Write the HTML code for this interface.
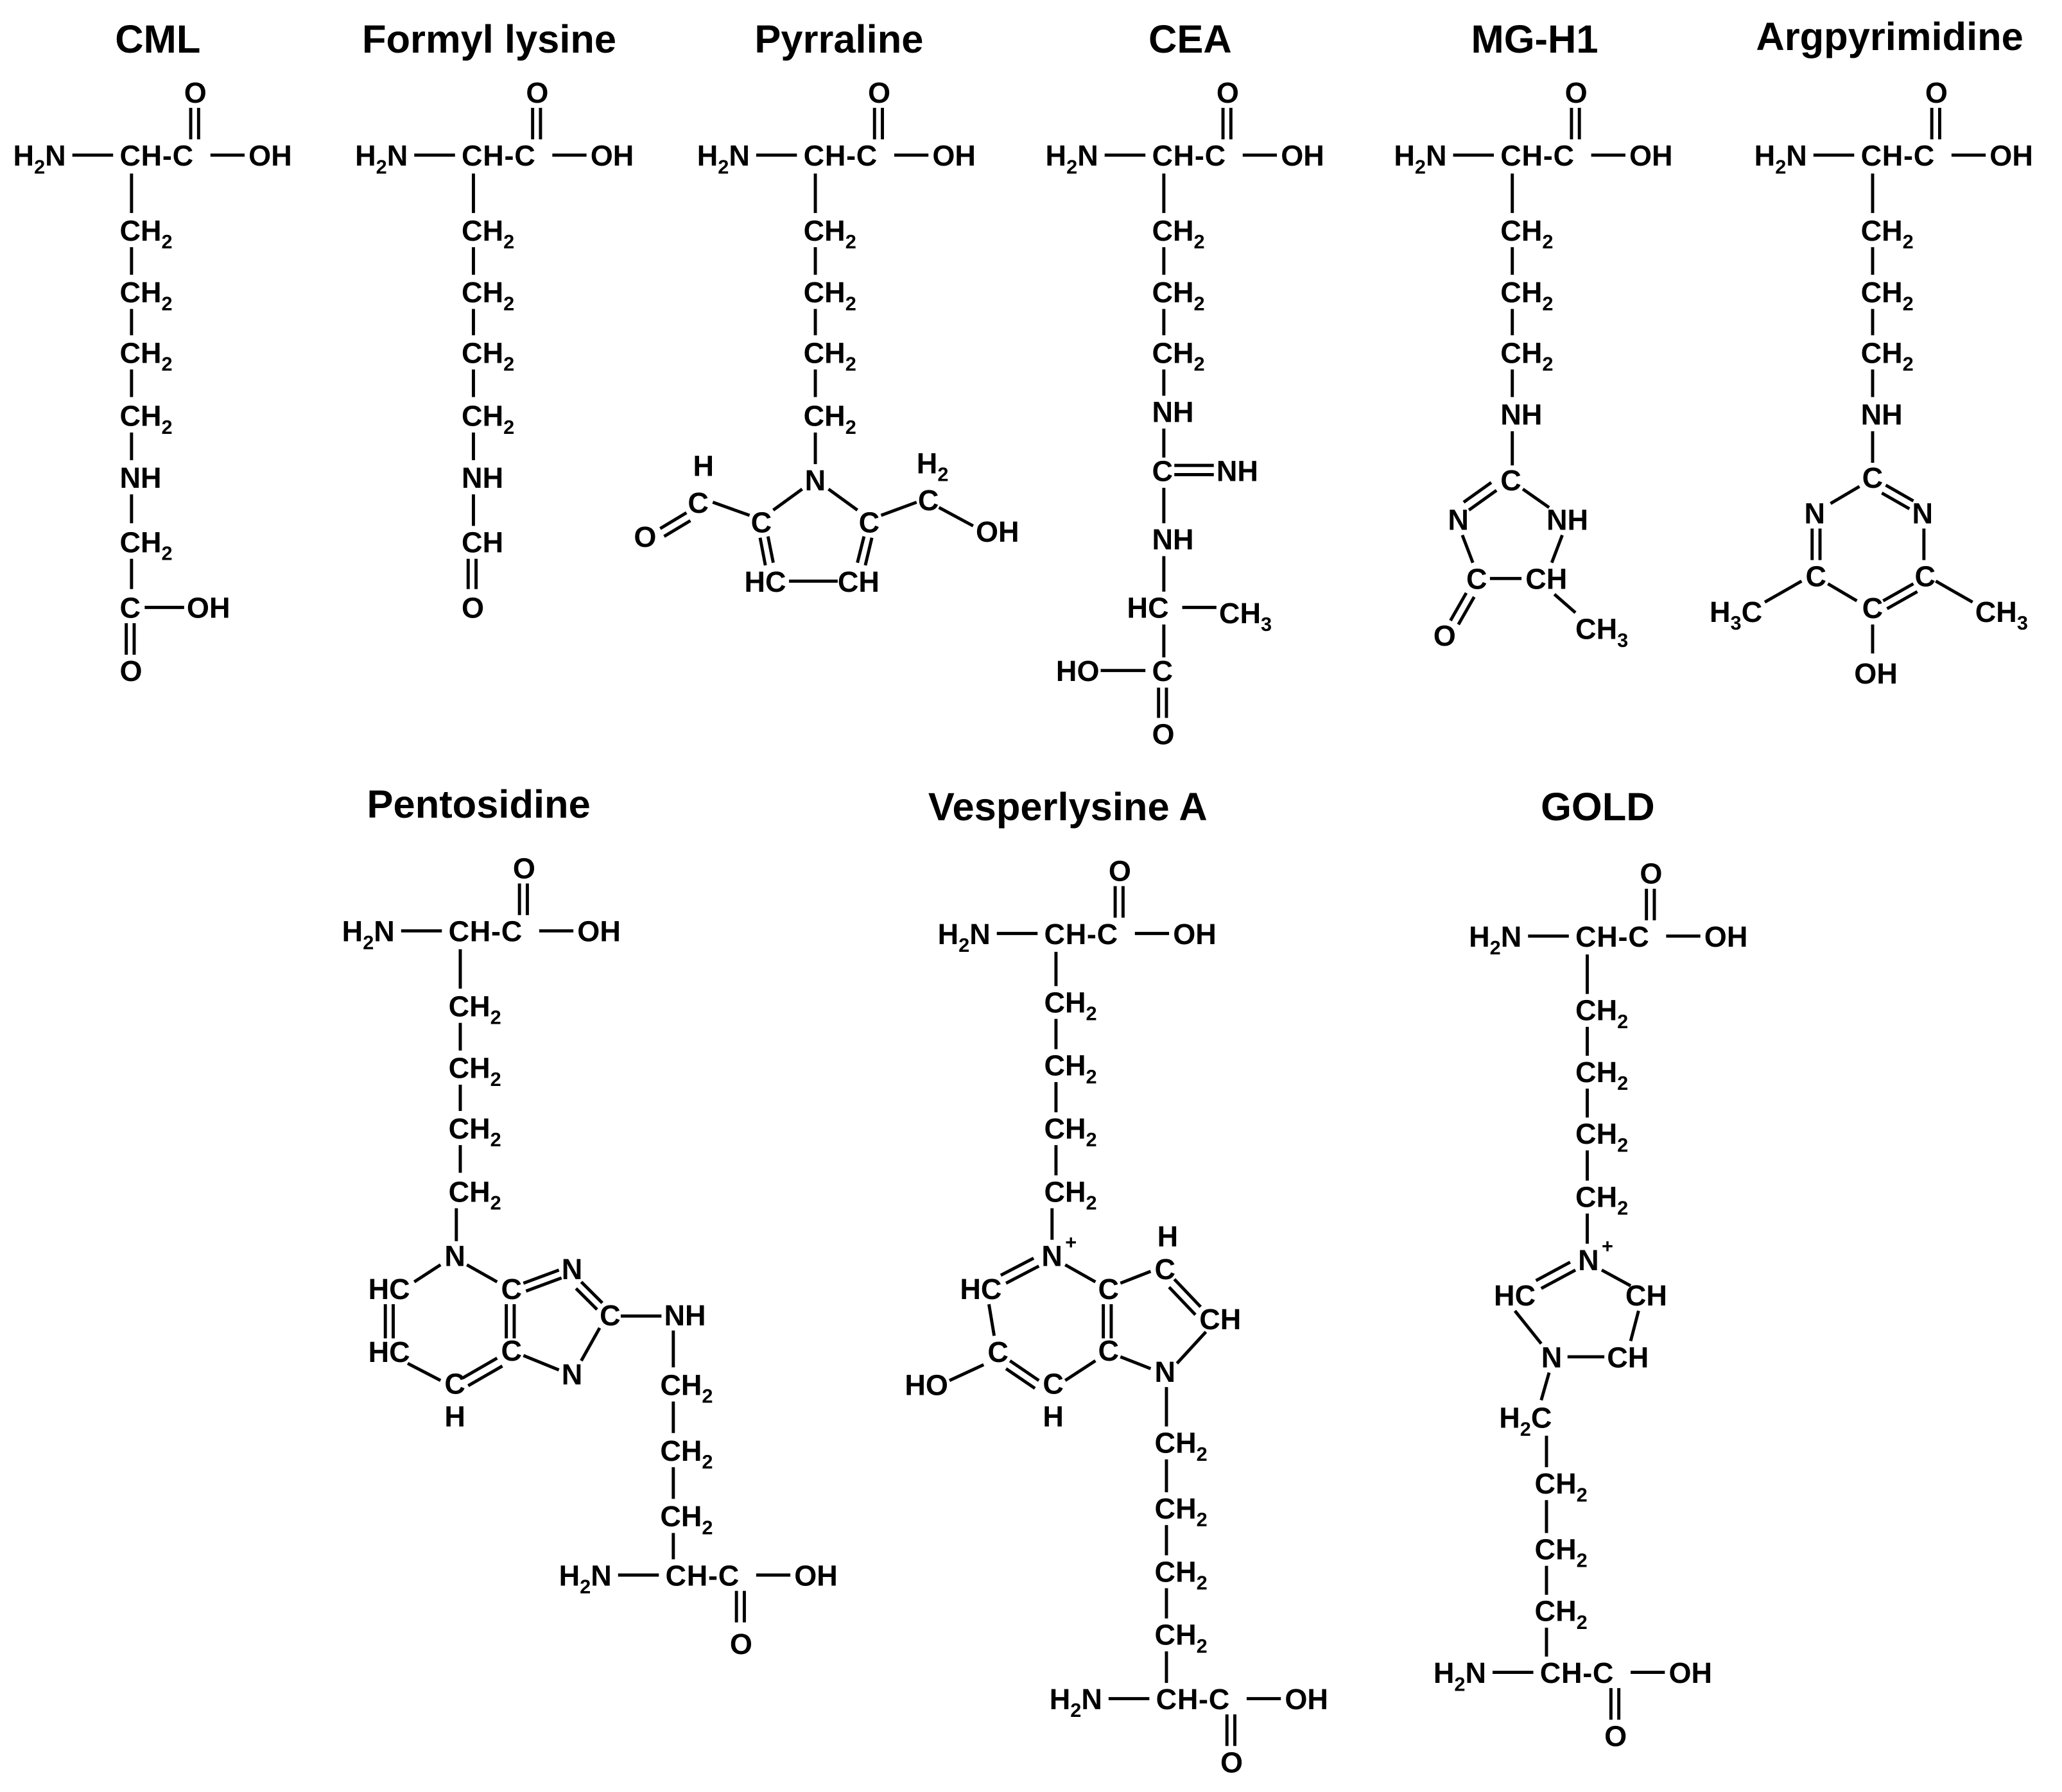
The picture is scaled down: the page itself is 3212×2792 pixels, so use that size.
<!DOCTYPE html>
<html><head><meta charset="utf-8"><style>
html,body{margin:0;padding:0;background:#fff}
svg{display:block}
text{font-family:"Liberation Sans",sans-serif;font-weight:bold;font-size:22px;fill:#000}
.t{font-size:30px;text-anchor:middle}
.s{font-size:15px}
line{stroke:#000;stroke-width:2.4}
</style></head><body>
<svg width="3212" height="2792" viewBox="0 0 1568 1363" xmlns="http://www.w3.org/2000/svg">
<!-- Titles -->
<text class="t" x="120" y="40">CML</text>
<text class="t" x="372" y="40">Formyl lysine</text>
<text class="t" x="638" y="40">Pyrraline</text>
<text class="t" x="905" y="40">CEA</text>
<text class="t" x="1167" y="40">MG-H1</text>
<text class="t" x="1437" y="38">Argpyrimidine</text>
<text class="t" x="364" y="622">Pentosidine</text>
<text class="t" x="812" y="624">Vesperlysine A</text>
<text class="t" x="1215" y="624">GOLD</text>

<!-- CML -->
<g transform="translate(100,118)">
<text x="-90" y="8">H<tspan class="s" dy="6">2</tspan><tspan dy="-6">N</tspan></text>
<line x1="-45" y1="0" x2="-14" y2="0"/><text x="-9" y="8" textLength="56">CH-C</text>
<line x1="60" y1="0" x2="86" y2="0"/><text x="89" y="8">OH</text>
<text x="40" y="-40">O</text><line x1="45" y1="-36" x2="45" y2="-12"/><line x1="51" y1="-36" x2="51" y2="-12"/>
<line x1="0" y1="14" x2="0" y2="44"/><text x="-9" y="65">CH<tspan class="s" dy="6">2</tspan></text>
<line x1="0" y1="70" x2="0" y2="91"/><text x="-9" y="112">CH<tspan class="s" dy="6">2</tspan></text>
<line x1="0" y1="117" x2="0" y2="137"/><text x="-9" y="158">CH<tspan class="s" dy="6">2</tspan></text>
<line x1="0" y1="163" x2="0" y2="184"/><text x="-9" y="206">CH<tspan class="s" dy="6">2</tspan></text>
<line x1="0" y1="211" x2="0" y2="232"/><text x="-9" y="253">NH</text>
<line x1="0" y1="258" x2="0" y2="280"/><text x="-9" y="302">CH<tspan class="s" dy="6">2</tspan></text>
<line x1="0" y1="307" x2="0" y2="330"/><text x="-9" y="352">C</text>
<line x1="10" y1="344" x2="40" y2="344"/><text x="42" y="352">OH</text>
<line x1="-4" y1="356" x2="-4" y2="380"/><line x1="2" y1="356" x2="2" y2="380"/><text x="-9" y="400">O</text>
</g>

<!-- Formyl lysine -->
<g transform="translate(360,118)">
<text x="-90" y="8">H<tspan class="s" dy="6">2</tspan><tspan dy="-6">N</tspan></text>
<line x1="-45" y1="0" x2="-14" y2="0"/><text x="-9" y="8" textLength="56">CH-C</text>
<line x1="60" y1="0" x2="86" y2="0"/><text x="89" y="8">OH</text>
<text x="40" y="-40">O</text><line x1="45" y1="-36" x2="45" y2="-12"/><line x1="51" y1="-36" x2="51" y2="-12"/>
<line x1="0" y1="14" x2="0" y2="44"/><text x="-9" y="65">CH<tspan class="s" dy="6">2</tspan></text>
<line x1="0" y1="70" x2="0" y2="91"/><text x="-9" y="112">CH<tspan class="s" dy="6">2</tspan></text>
<line x1="0" y1="117" x2="0" y2="137"/><text x="-9" y="158">CH<tspan class="s" dy="6">2</tspan></text>
<line x1="0" y1="163" x2="0" y2="184"/><text x="-9" y="206">CH<tspan class="s" dy="6">2</tspan></text>
<line x1="0" y1="211" x2="0" y2="232"/><text x="-9" y="253">NH</text>
<line x1="0" y1="258" x2="0" y2="282"/><text x="-9" y="302">CH</text>
<line x1="-4" y1="307" x2="-4" y2="330"/><line x1="2" y1="307" x2="2" y2="330"/><text x="-9" y="352">O</text>
</g>

<!-- Pyrraline -->
<g transform="translate(620,118)">
<text x="-90" y="8">H<tspan class="s" dy="6">2</tspan><tspan dy="-6">N</tspan></text>
<line x1="-45" y1="0" x2="-14" y2="0"/><text x="-9" y="8" textLength="56">CH-C</text>
<line x1="60" y1="0" x2="86" y2="0"/><text x="89" y="8">OH</text>
<text x="40" y="-40">O</text><line x1="45" y1="-36" x2="45" y2="-12"/><line x1="51" y1="-36" x2="51" y2="-12"/>
<line x1="0" y1="14" x2="0" y2="44"/><text x="-9" y="65">CH<tspan class="s" dy="6">2</tspan></text>
<line x1="0" y1="70" x2="0" y2="91"/><text x="-9" y="112">CH<tspan class="s" dy="6">2</tspan></text>
<line x1="0" y1="117" x2="0" y2="137"/><text x="-9" y="158">CH<tspan class="s" dy="6">2</tspan></text>
<line x1="0" y1="163" x2="0" y2="184"/><text x="-9" y="206">CH<tspan class="s" dy="6">2</tspan></text>
<line x1="0" y1="211" x2="0" y2="235"/><text x="-8" y="255">N</text>
</g>
<line x1="610" y1="372" x2="588" y2="388"/><text x="571" y="405">C</text>
<line x1="630" y1="372" x2="652" y2="388"/><text x="653" y="405">C</text>
<line x1="578" y1="409" x2="582" y2="430"/><line x1="584" y1="408" x2="588" y2="428"/>
<line x1="663" y1="409" x2="658" y2="430"/><line x1="657" y1="408" x2="652" y2="428"/>
<text x="566" y="450">HC</text><line x1="600" y1="442" x2="637" y2="442"/><text x="637" y="450">CH</text>
<line x1="570" y1="392" x2="542" y2="382"/><text x="523" y="390">C</text><text x="527" y="362">H</text>
<line x1="522" y1="390" x2="502" y2="402"/><line x1="525" y1="396" x2="505" y2="408"/><text x="482" y="416">O</text>
<line x1="670" y1="392" x2="697" y2="382"/><text x="698" y="388">C</text><text x="697" y="360">H<tspan class="s" dy="6">2</tspan></text>
<line x1="714" y1="386" x2="740" y2="400"/><text x="742" y="412">OH</text>

<!-- CEA -->
<g transform="translate(885,118)">
<text x="-90" y="8">H<tspan class="s" dy="6">2</tspan><tspan dy="-6">N</tspan></text>
<line x1="-45" y1="0" x2="-14" y2="0"/><text x="-9" y="8" textLength="56">CH-C</text>
<line x1="60" y1="0" x2="86" y2="0"/><text x="89" y="8">OH</text>
<text x="40" y="-40">O</text><line x1="45" y1="-36" x2="45" y2="-12"/><line x1="51" y1="-36" x2="51" y2="-12"/>
<line x1="0" y1="14" x2="0" y2="44"/><text x="-9" y="65">CH<tspan class="s" dy="6">2</tspan></text>
<line x1="0" y1="70" x2="0" y2="91"/><text x="-9" y="112">CH<tspan class="s" dy="6">2</tspan></text>
<line x1="0" y1="117" x2="0" y2="137"/><text x="-9" y="158">CH<tspan class="s" dy="6">2</tspan></text>
<line x1="0" y1="163" x2="0" y2="183"/><text x="-9" y="203">NH</text>
<line x1="0" y1="208" x2="0" y2="230"/><text x="-9" y="248">C</text>
<line x1="8" y1="236" x2="38" y2="236"/><line x1="8" y1="243" x2="38" y2="243"/><text x="40" y="248">NH</text>
<line x1="0" y1="253" x2="0" y2="280"/><text x="-9" y="300">NH</text>
<line x1="0" y1="305" x2="0" y2="332"/><text x="-28" y="352">HC</text>
<line x1="14" y1="344" x2="40" y2="344"/><text x="42" y="356">CH<tspan class="s" dy="6">3</tspan></text>
<line x1="0" y1="357" x2="0" y2="382"/><text x="-9" y="400">C</text>
<text x="-82" y="400">HO</text><line x1="-48" y1="392" x2="-14" y2="392"/>
<line x1="-4" y1="405" x2="-4" y2="428"/><line x1="2" y1="405" x2="2" y2="428"/><text x="-9" y="448">O</text>
</g>

<!-- MG-H1 -->
<g transform="translate(1150,118)">
<text x="-90" y="8">H<tspan class="s" dy="6">2</tspan><tspan dy="-6">N</tspan></text>
<line x1="-45" y1="0" x2="-14" y2="0"/><text x="-9" y="8" textLength="56">CH-C</text>
<line x1="60" y1="0" x2="86" y2="0"/><text x="89" y="8">OH</text>
<text x="40" y="-40">O</text><line x1="45" y1="-36" x2="45" y2="-12"/><line x1="51" y1="-36" x2="51" y2="-12"/>
<line x1="0" y1="14" x2="0" y2="44"/><text x="-9" y="65">CH<tspan class="s" dy="6">2</tspan></text>
<line x1="0" y1="70" x2="0" y2="91"/><text x="-9" y="112">CH<tspan class="s" dy="6">2</tspan></text>
<line x1="0" y1="117" x2="0" y2="137"/><text x="-9" y="158">CH<tspan class="s" dy="6">2</tspan></text>
<line x1="0" y1="163" x2="0" y2="184"/><text x="-9" y="205">NH</text>
<line x1="0" y1="210" x2="0" y2="236"/>
</g>
<text x="1141" y="373">C</text>
<text x="1101" y="403">N</text>
<line x1="1138" y1="373" x2="1117" y2="388"/><line x1="1134" y1="367" x2="1113" y2="382"/>
<line x1="1158" y1="372" x2="1178" y2="386"/><text x="1176" y="403">NH</text>
<line x1="1112" y1="407" x2="1120" y2="428"/>
<text x="1115" y="448">C</text><line x1="1133" y1="440" x2="1157" y2="440"/><text x="1160" y="448">CH</text>
<line x1="1188" y1="407" x2="1180" y2="428"/>
<line x1="1115" y1="451" x2="1103" y2="472"/><line x1="1121" y1="454" x2="1109" y2="475"/><text x="1090" y="491">O</text>
<line x1="1182" y1="452" x2="1198" y2="466"/><text x="1198" y="486">CH<tspan class="s" dy="6">3</tspan></text>

<!-- Argpyrimidine -->
<g transform="translate(1424,118)">
<text x="-90" y="8">H<tspan class="s" dy="6">2</tspan><tspan dy="-6">N</tspan></text>
<line x1="-45" y1="0" x2="-14" y2="0"/><text x="-9" y="8" textLength="56">CH-C</text>
<line x1="60" y1="0" x2="86" y2="0"/><text x="89" y="8">OH</text>
<text x="40" y="-40">O</text><line x1="45" y1="-36" x2="45" y2="-12"/><line x1="51" y1="-36" x2="51" y2="-12"/>
<line x1="0" y1="14" x2="0" y2="44"/><text x="-9" y="65">CH<tspan class="s" dy="6">2</tspan></text>
<line x1="0" y1="70" x2="0" y2="91"/><text x="-9" y="112">CH<tspan class="s" dy="6">2</tspan></text>
<line x1="0" y1="117" x2="0" y2="137"/><text x="-9" y="158">CH<tspan class="s" dy="6">2</tspan></text>
<line x1="0" y1="163" x2="0" y2="184"/><text x="-9" y="205">NH</text>
<line x1="0" y1="210" x2="0" y2="234"/>
</g>
<text x="1416" y="371">C</text>
<text x="1372" y="398">N</text><text x="1454" y="398">N</text>
<line x1="1414" y1="370" x2="1392" y2="383"/>
<line x1="1434" y1="369" x2="1455" y2="381"/><line x1="1431" y1="375" x2="1452" y2="387"/>
<line x1="1378" y1="402" x2="1378" y2="426"/><line x1="1384" y1="402" x2="1384" y2="426"/>
<line x1="1463" y1="402" x2="1463" y2="426"/>
<text x="1373" y="446">C</text><text x="1456" y="446">C</text><text x="1416" y="470">C</text>
<line x1="1390" y1="444" x2="1412" y2="457"/>
<line x1="1432" y1="457" x2="1455" y2="444"/><line x1="1435" y1="463" x2="1458" y2="450"/>
<line x1="1370" y1="442" x2="1342" y2="458"/><text x="1300" y="473">H<tspan class="s" dy="6">3</tspan><tspan dy="-6">C</tspan></text>
<line x1="1472" y1="442" x2="1500" y2="458"/><text x="1502" y="473">CH<tspan class="s" dy="6">3</tspan></text>
<line x1="1424" y1="475" x2="1424" y2="497"/><text x="1410" y="520">OH</text>

<!-- Pentosidine -->
<g transform="translate(350,708)">
<text x="-90" y="8">H<tspan class="s" dy="6">2</tspan><tspan dy="-6">N</tspan></text>
<line x1="-45" y1="0" x2="-14" y2="0"/><text x="-9" y="8" textLength="56">CH-C</text>
<line x1="60" y1="0" x2="86" y2="0"/><text x="89" y="8">OH</text>
<text x="40" y="-40">O</text><line x1="45" y1="-36" x2="45" y2="-12"/><line x1="51" y1="-36" x2="51" y2="-12"/>
<line x1="0" y1="14" x2="0" y2="44"/><text x="-9" y="65">CH<tspan class="s" dy="6">2</tspan></text>
<line x1="0" y1="70" x2="0" y2="91"/><text x="-9" y="112">CH<tspan class="s" dy="6">2</tspan></text>
<line x1="0" y1="117" x2="0" y2="137"/><text x="-9" y="158">CH<tspan class="s" dy="6">2</tspan></text>
<line x1="0" y1="163" x2="0" y2="184"/><text x="-9" y="206">CH<tspan class="s" dy="6">2</tspan></text>
<line x1="-3" y1="211" x2="-3" y2="236"/>
</g>
<text x="338" y="963">N</text>
<text x="280" y="988">HC</text><text x="280" y="1036">HC</text>
<text x="338" y="1060">C</text><text x="338" y="1085">H</text>
<text x="381" y="988">C</text><text x="381" y="1035">C</text>
<text x="427" y="973">N</text><text x="456" y="1008">C</text><text x="427" y="1053">N</text>
<text x="505" y="1008">NH</text>
<line x1="335" y1="962" x2="315" y2="975"/>
<line x1="293" y1="992" x2="293" y2="1018"/><line x1="299" y1="992" x2="299" y2="1018"/>
<line x1="310" y1="1037" x2="335" y2="1050"/>
<line x1="352" y1="1048" x2="378" y2="1033"/><line x1="356" y1="1054" x2="382" y2="1039"/>
<line x1="355" y1="962" x2="378" y2="975"/>
<line x1="385" y1="992" x2="385" y2="1018"/><line x1="391" y1="992" x2="391" y2="1018"/>
<line x1="398" y1="976" x2="425" y2="966"/><line x1="400" y1="982" x2="427" y2="972"/>
<line x1="442" y1="975" x2="458" y2="991"/><line x1="438" y1="980" x2="454" y2="996"/>
<line x1="456" y1="1010" x2="442" y2="1035"/>
<line x1="398" y1="1031" x2="425" y2="1042"/>
<line x1="472" y1="1001" x2="503" y2="1001"/>
<line x1="512" y1="1012" x2="512" y2="1040"/><text x="502" y="1061">CH<tspan class="s" dy="6">2</tspan></text>
<line x1="512" y1="1066" x2="512" y2="1090"/><text x="502" y="1111">CH<tspan class="s" dy="6">2</tspan></text>
<line x1="512" y1="1116" x2="512" y2="1140"/><text x="502" y="1161">CH<tspan class="s" dy="6">2</tspan></text>
<line x1="512" y1="1166" x2="512" y2="1186"/>
<g transform="translate(515,1198)">
<text x="-90" y="8">H<tspan class="s" dy="6">2</tspan><tspan dy="-6">N</tspan></text>
<line x1="-45" y1="0" x2="-14" y2="0"/><text x="-9" y="8" textLength="56">CH-C</text>
<line x1="60" y1="0" x2="86" y2="0"/><text x="89" y="8">OH</text>
<line x1="45" y1="12" x2="45" y2="36"/><line x1="51" y1="12" x2="51" y2="36"/><text x="40" y="60">O</text>
</g>

<!-- Vesperlysine A -->
<g transform="translate(803,710)">
<text x="-90" y="8">H<tspan class="s" dy="6">2</tspan><tspan dy="-6">N</tspan></text>
<line x1="-45" y1="0" x2="-14" y2="0"/><text x="-9" y="8" textLength="56">CH-C</text>
<line x1="60" y1="0" x2="86" y2="0"/><text x="89" y="8">OH</text>
<text x="40" y="-40">O</text><line x1="45" y1="-36" x2="45" y2="-12"/><line x1="51" y1="-36" x2="51" y2="-12"/>
<line x1="0" y1="14" x2="0" y2="40"/><text x="-9" y="60">CH<tspan class="s" dy="6">2</tspan></text>
<line x1="0" y1="65" x2="0" y2="88"/><text x="-9" y="108">CH<tspan class="s" dy="6">2</tspan></text>
<line x1="0" y1="113" x2="0" y2="136"/><text x="-9" y="156">CH<tspan class="s" dy="6">2</tspan></text>
<line x1="0" y1="161" x2="0" y2="184"/><text x="-9" y="204">CH<tspan class="s" dy="6">2</tspan></text>
<line x1="-3" y1="209" x2="-3" y2="233"/>
</g>
<text x="792" y="963">N</text><text x="810" y="950" class="s">+</text>
<text x="730" y="988">HC</text>
<text x="751" y="1036">C</text><text x="688" y="1061">HO</text>
<line x1="748" y1="1038" x2="722" y2="1050"/>
<text x="793" y="1060">C</text><text x="793" y="1085">H</text>
<text x="835" y="988">C</text><text x="835" y="1035">C</text>
<text x="878" y="973">C</text><text x="880" y="948">H</text>
<text x="912" y="1011">CH</text>
<text x="878" y="1051">N</text>
<line x1="790" y1="963" x2="765" y2="976"/><line x1="786" y1="957" x2="761" y2="970"/>
<line x1="752" y1="992" x2="756" y2="1016"/>
<line x1="768" y1="1035" x2="790" y2="1050"/><line x1="765" y1="1041" x2="787" y2="1056"/>
<line x1="810" y1="1050" x2="833" y2="1035"/>
<line x1="839" y1="992" x2="839" y2="1018"/><line x1="845" y1="992" x2="845" y2="1018"/>
<line x1="810" y1="962" x2="833" y2="975"/>
<line x1="852" y1="976" x2="875" y2="967"/>
<line x1="893" y1="973" x2="913" y2="994"/><line x1="889" y1="979" x2="909" y2="1000"/>
<line x1="917" y1="1013" x2="895" y2="1037"/>
<line x1="875" y1="1041" x2="852" y2="1032"/>
<line x1="887" y1="1055" x2="887" y2="1085"/><text x="878" y="1105">CH<tspan class="s" dy="6">2</tspan></text>
<line x1="887" y1="1110" x2="887" y2="1135"/><text x="878" y="1155">CH<tspan class="s" dy="6">2</tspan></text>
<line x1="887" y1="1160" x2="887" y2="1183"/><text x="878" y="1203">CH<tspan class="s" dy="6">2</tspan></text>
<line x1="887" y1="1208" x2="887" y2="1231"/><text x="878" y="1251">CH<tspan class="s" dy="6">2</tspan></text>
<line x1="887" y1="1256" x2="887" y2="1280"/>
<g transform="translate(888,1292)">
<text x="-90" y="8">H<tspan class="s" dy="6">2</tspan><tspan dy="-6">N</tspan></text>
<line x1="-45" y1="0" x2="-14" y2="0"/><text x="-9" y="8" textLength="56">CH-C</text>
<line x1="60" y1="0" x2="86" y2="0"/><text x="89" y="8">OH</text>
<line x1="45" y1="12" x2="45" y2="36"/><line x1="51" y1="12" x2="51" y2="36"/><text x="40" y="56">O</text>
</g>

<!-- GOLD -->
<g transform="translate(1207,712)">
<text x="-90" y="8">H<tspan class="s" dy="6">2</tspan><tspan dy="-6">N</tspan></text>
<line x1="-45" y1="0" x2="-14" y2="0"/><text x="-9" y="8" textLength="56">CH-C</text>
<line x1="60" y1="0" x2="86" y2="0"/><text x="89" y="8">OH</text>
<text x="40" y="-40">O</text><line x1="45" y1="-36" x2="45" y2="-12"/><line x1="51" y1="-36" x2="51" y2="-12"/>
<line x1="0" y1="14" x2="0" y2="44"/><text x="-9" y="64">CH<tspan class="s" dy="6">2</tspan></text>
<line x1="0" y1="69" x2="0" y2="91"/><text x="-9" y="111">CH<tspan class="s" dy="6">2</tspan></text>
<line x1="0" y1="116" x2="0" y2="138"/><text x="-9" y="158">CH<tspan class="s" dy="6">2</tspan></text>
<line x1="0" y1="163" x2="0" y2="186"/><text x="-9" y="206">CH<tspan class="s" dy="6">2</tspan></text>
<line x1="0" y1="211" x2="0" y2="234"/>
</g>
<text x="1200" y="966">N</text><text x="1218" y="953" class="s">+</text>
<text x="1136" y="993">HC</text>
<line x1="1198" y1="966" x2="1172" y2="980"/><line x1="1194" y1="960" x2="1168" y2="974"/>
<text x="1236" y="993">CH</text>
<line x1="1218" y1="966" x2="1240" y2="978"/>
<text x="1172" y="1040">N</text>
<line x1="1152" y1="997" x2="1172" y2="1022"/>
<line x1="1192" y1="1032" x2="1220" y2="1032"/><text x="1222" y="1040">CH</text>
<line x1="1246" y1="997" x2="1240" y2="1020"/>
<line x1="1178" y1="1044" x2="1172" y2="1065"/>
<text x="1140" y="1086">H<tspan class="s" dy="6">2</tspan><tspan dy="-6">C</tspan></text>
<line x1="1176" y1="1092" x2="1176" y2="1116"/><text x="1167" y="1136">CH<tspan class="s" dy="6">2</tspan></text>
<line x1="1176" y1="1141" x2="1176" y2="1166"/><text x="1167" y="1186">CH<tspan class="s" dy="6">2</tspan></text>
<line x1="1176" y1="1191" x2="1176" y2="1213"/><text x="1167" y="1233">CH<tspan class="s" dy="6">2</tspan></text>
<line x1="1176" y1="1238" x2="1176" y2="1260"/>
<g transform="translate(1180,1272)">
<text x="-90" y="8">H<tspan class="s" dy="6">2</tspan><tspan dy="-6">N</tspan></text>
<line x1="-45" y1="0" x2="-14" y2="0"/><text x="-9" y="8" textLength="56">CH-C</text>
<line x1="60" y1="0" x2="86" y2="0"/><text x="89" y="8">OH</text>
<line x1="45" y1="12" x2="45" y2="36"/><line x1="51" y1="12" x2="51" y2="36"/><text x="40" y="56">O</text>
</g>
</svg>
</body></html>
